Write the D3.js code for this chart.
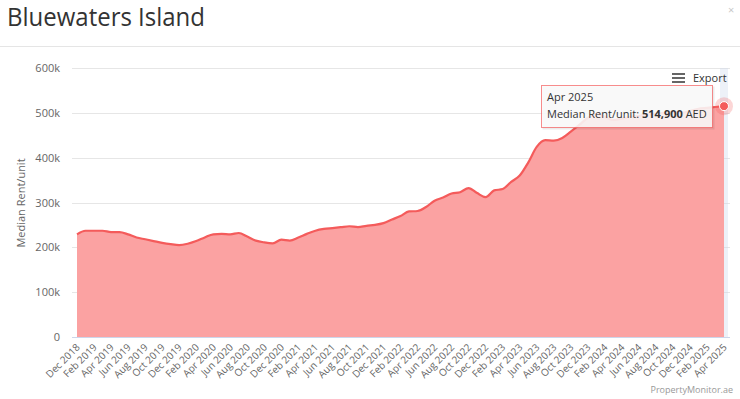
<!DOCTYPE html>
<html>
<head>
<meta charset="utf-8">
<script src="https://cdn.jsdelivr.net/npm/d3@7"></script>
<style>
  body { margin: 0; background: #fff; font-family: "Open Sans", sans-serif; }
  #chart { width: 740px; height: 399px; }
  .axis text { fill: #666; font-family: "Open Sans", sans-serif; }
</style>
</head>
<body>
<div id="chart"></div>
<script>
// monthly median rent per unit, Dec 2018 .. Apr 2025 (AED)
var months = ["Dec 2018","Jan 2019","Feb 2019","Mar 2019","Apr 2019","May 2019","Jun 2019","Jul 2019","Aug 2019","Sep 2019","Oct 2019","Nov 2019",
  "Dec 2019","Jan 2020","Feb 2020","Mar 2020","Apr 2020","May 2020","Jun 2020","Jul 2020","Aug 2020","Sep 2020","Oct 2020","Nov 2020",
  "Dec 2020","Jan 2021","Feb 2021","Mar 2021","Apr 2021","May 2021","Jun 2021","Jul 2021","Aug 2021","Sep 2021","Oct 2021","Nov 2021",
  "Dec 2021","Jan 2022","Feb 2022","Mar 2022","Apr 2022","May 2022","Jun 2022","Jul 2022","Aug 2022","Sep 2022","Oct 2022","Nov 2022",
  "Dec 2022","Jan 2023","Feb 2023","Mar 2023","Apr 2023","May 2023","Jun 2023","Jul 2023","Aug 2023","Sep 2023","Oct 2023","Nov 2023",
  "Dec 2023","Jan 2024","Feb 2024","Mar 2024","Apr 2024","May 2024","Jun 2024","Jul 2024","Aug 2024","Sep 2024","Oct 2024","Nov 2024",
  "Dec 2024","Jan 2025","Feb 2025","Mar 2025","Apr 2025"];

var medianRent = [229000, 237000, 237000, 237000, 234000, 234000, 229000, 222000, 218000, 214000, 210000, 207000,
  205000, 208000, 214000, 222000, 229000, 230000, 229000, 232000, 224000, 215000, 211000, 209000,
  217000, 215000, 222000, 230000, 237000, 241000, 243000, 245000, 247000, 245000, 248000, 250000,
  254000, 262000, 270000, 280000, 281000, 290000, 304000, 311000, 320000, 323000, 332000, 321000,
  312000, 327000, 330000, 346000, 360000, 389000, 424000, 439000, 438000, 444000, 458000, 473000,
  489000, 498000, 491000, 484000, 487000, 491000, 493000, 498000, 498000, 500000, 502000, 500000,
  504000, 509000, 511000, 513000, 514900];

var yTicks = [0, 100000, 200000, 300000, 400000, 500000, 600000];

var width = 740, height = 399;
var margin = {top: 68, right: 12, bottom: 62, left: 72};

var svg = d3.select("#chart").append("svg")
    .attr("width", width)
    .attr("height", height);

// title + separator
svg.append("text")
    .attr("x", 7).attr("y", 26)
    .attr("textLength", 198)
    .attr("lengthAdjust", "spacingAndGlyphs")
    .style("font-size", "25px")
    .style("fill", "#333")
    .text("Bluewaters Island");

svg.append("text")
    .attr("x", 728).attr("y", 14)
    .style("font-size", "11px")
    .style("fill", "#c8c8c8")
    .text("×");

svg.append("line")
    .attr("x1", 0).attr("x2", width)
    .attr("y1", 46.5).attr("y2", 46.5)
    .style("stroke", "#e5e5e5");

var xScale = d3.scaleLinear()
    .domain([0, months.length - 1])
    .range([77, 724]);

var yScale = d3.scaleLinear()
    .domain([0, 600000])
    .range([337, 68]);

var g = svg.append("g");

// grid lines
g.selectAll(".grid")
    .data(yTicks.slice(1))
    .enter().append("line")
    .attr("class", "grid")
    .attr("x1", margin.left).attr("x2", 730)
    .attr("y1", function(d) { return Math.round(yScale(d)) + 0.5; })
    .attr("y2", function(d) { return Math.round(yScale(d)) + 0.5; })
    .style("stroke", "#e6e6e6");

// y axis labels
var yAxis = d3.axisLeft(yScale)
    .tickValues(yTicks)
    .tickSize(0)
    .tickPadding(0)
    .tickFormat(function(d) { return d === 0 ? "0" : (d / 1000) + "k"; });

g.append("g")
    .attr("class", "y axis")
    .attr("transform", "translate(60,0)")
    .call(yAxis)
    .call(function(s) { s.select(".domain").remove(); })
    .selectAll("text")
    .style("font-size", "11px");

svg.append("text")
    .attr("transform", "translate(25,203) rotate(-90)")
    .attr("text-anchor", "middle")
    .style("font-size", "11px")
    .style("fill", "#666")
    .text("Median Rent/unit");

// hover crosshair band
g.append("rect")
    .attr("x", xScale(76) - 4).attr("width", 8)
    .attr("y", 68).attr("height", 337 - 68)
    .style("fill", "rgba(204,214,235,0.35)");

// area + line
var area = d3.area()
    .x(function(d, i) { return xScale(i); })
    .y0(yScale(0))
    .y1(function(d) { return yScale(d); })
    .curve(d3.curveMonotoneX);

var line = d3.line()
    .x(function(d, i) { return xScale(i); })
    .y(function(d) { return yScale(d); })
    .curve(d3.curveMonotoneX);

g.append("path")
    .datum(medianRent)
    .attr("d", area)
    .style("fill", "#fba2a2");

g.append("path")
    .datum(medianRent)
    .attr("d", line)
    .style("fill", "none")
    .style("stroke", "#f45b5b")
    .style("stroke-width", 2.2);

// x axis
var xAxis = d3.axisBottom(xScale)
    .tickValues(d3.range(0, months.length, 2))
    .tickSize(0)
    .tickPadding(0)
    .tickFormat(function(i) { return months[i]; });

var xg = g.append("g")
    .attr("class", "x axis")
    .attr("transform", "translate(0,337)")
    .call(xAxis);

xg.select(".domain").remove();
xg.selectAll("text")
    .attr("text-anchor", "end")
    .attr("dy", null)
    .attr("y", 0)
    .attr("transform", "translate(3,11) rotate(-45)")
    .style("font-size", "10px");

g.append("line")
    .attr("x1", margin.left).attr("x2", 730)
    .attr("y1", 337.5).attr("y2", 337.5)
    .style("stroke", "#ccd6eb");

// hovered point
var last = medianRent.length - 1;
g.append("circle")
    .attr("cx", xScale(last)).attr("cy", yScale(medianRent[last]))
    .attr("r", 9)
    .style("fill", "#f45b5b")
    .style("opacity", 0.25);
g.append("circle")
    .attr("cx", xScale(last)).attr("cy", yScale(medianRent[last]))
    .attr("r", 4.5)
    .style("fill", "#f45b5b")
    .style("stroke", "#fff")
    .style("stroke-width", 1);

// tooltip
var tip = svg.append("g").attr("transform", "translate(541,85)");
tip.append("rect")
    .attr("x", 1.5).attr("y", 1.5)
    .attr("width", 172).attr("height", 43)
    .style("fill", "rgba(0,0,0,0.08)");
tip.append("rect")
    .attr("x", 0.5).attr("y", 0.5)
    .attr("width", 171).attr("height", 42)
    .style("fill", "rgba(250,250,250,0.88)")
    .style("stroke", "#f45b5b")
    .style("stroke-opacity", 0.7);
tip.append("text")
    .attr("x", 6).attr("y", 16)
    .style("font-size", "11px")
    .style("fill", "#333")
    .text(months[last]);
var tipLine = tip.append("text")
    .attr("x", 6).attr("y", 33)
    .style("font-size", "11px")
    .style("fill", "#333");
tipLine.append("tspan").text("Median Rent/unit: ");
tipLine.append("tspan").style("font-weight", "bold").text(d3.format(",")(medianRent[last]));
tipLine.append("tspan").text(" AED");

// export button
var exp = svg.append("g").attr("transform", "translate(672,73)");
[0, 4, 8].forEach(function(dy) {
  exp.append("rect")
      .attr("x", 0).attr("y", dy).attr("width", 13).attr("height", 2)
      .style("fill", "#666");
});
exp.append("text")
    .attr("x", 21).attr("y", 9)
    .style("font-size", "11px")
    .style("fill", "#333")
    .text("Export");

// credits
svg.append("text")
    .attr("x", 733).attr("y", 393)
    .attr("text-anchor", "end")
    .style("font-size", "9px")
    .style("fill", "#999")
    .text("PropertyMonitor.ae");
</script>
</body>
</html>
